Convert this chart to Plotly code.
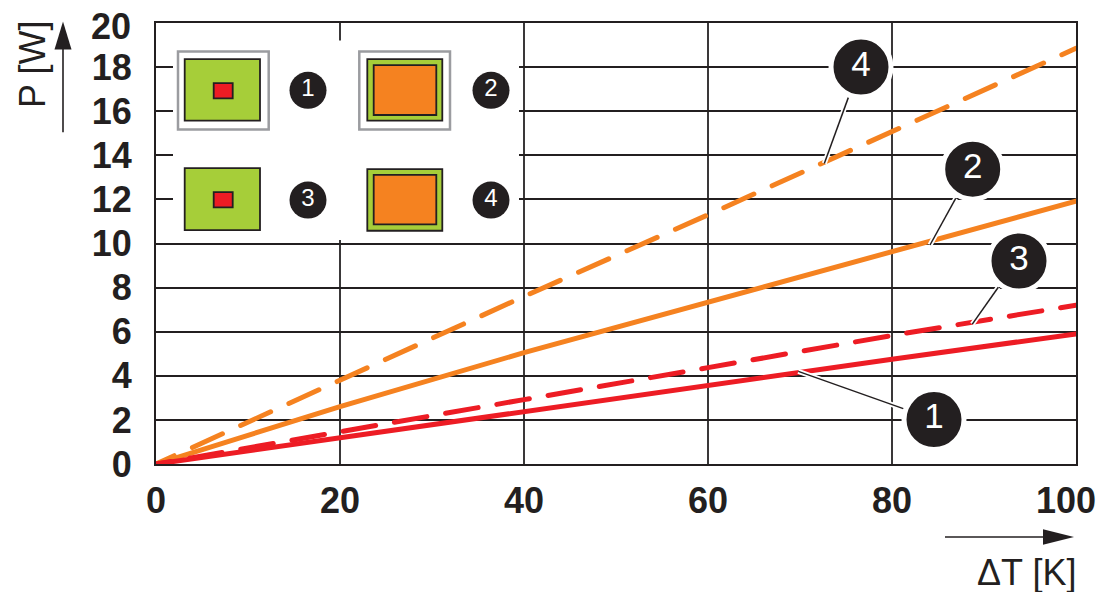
import plotly.graph_objects as go

delta_t = [0, 20, 40, 60, 80, 100]
curve_1 = [0, 1.2, 2.4, 3.6, 4.75, 5.9]
curve_2 = [0, 2.6, 5.05, 7.35, 9.65, 11.92]
curve_3 = [0, 1.48, 2.92, 4.37, 5.83, 7.2]
curve_4 = [0, 3.8, 7.6, 11.3, 15.05, 18.85]
x_ticks = [0, 20, 40, 60, 80, 100]
x_tick_text = ["0", "20", "40", "60", "80", ""]
y_ticks = [0, 2, 4, 6, 8, 10, 12, 14, 16, 18, 20]
y_tick_text = ["0", "2", "4", "6", "8", "10", "12", "14", "16", "18", ""]
callout_labels = ["1", "2", "3", "4"]

W, H = 1105, 592
L, R, T, B = 156, 1076, 22.5, 464.5
INK = "#231f20"
RED = "#ed1c24"
ORANGE = "#f58220"
GREEN = "#a6ce39"
GRAY = "#9b9ca0"
FONT = "Liberation Sans"


def dx(px):
    return (px - L) / (R - L) * 100


def dy(py):
    return (B - py) / (B - T) * 20


def px(x):
    return (x - L) / (R - L)


def py(y):
    return (B - y) / (B - T)


fig = go.Figure()
fig.add_trace(go.Scatter(x=delta_t, y=curve_4, mode="lines", line=dict(color=ORANGE, width=5, dash="33px,20px"), hoverinfo="skip"))
fig.add_trace(go.Scatter(x=delta_t, y=curve_2, mode="lines", line=dict(color=ORANGE, width=5), hoverinfo="skip"))
fig.add_trace(go.Scatter(x=delta_t, y=curve_3, mode="lines", line=dict(color=RED, width=5, dash="33px,19px"), hoverinfo="skip"))
fig.add_trace(go.Scatter(x=delta_t, y=curve_1, mode="lines", line=dict(color=RED, width=5), hoverinfo="skip"))

# numbered callouts on the curves
big = [(934, 420), (972.7, 169), (1019, 261), (861, 66.7)]
fig.add_trace(go.Scatter(
    x=[dx(p[0]) for p in big], y=[dy(p[1]) for p in big], mode="markers+text",
    text=callout_labels, textposition="middle center",
    textfont=dict(family=FONT, size=35, color="white"),
    marker=dict(size=60, color=INK, line=dict(color="white", width=5)),
    hoverinfo="skip", cliponaxis=False))

# numbered key markers
small = [(308, 90), (491, 90), (308, 200), (491, 200)]
fig.add_trace(go.Scatter(
    x=[dx(p[0]) for p in small], y=[dy(p[1]) for p in small], mode="markers+text",
    text=callout_labels, textposition="middle center",
    textfont=dict(family=FONT, size=24, color="white"),
    marker=dict(size=37, color=INK, line=dict(width=0)),
    hoverinfo="skip", cliponaxis=False))

shapes = []


def rect(x0, y0, x1, y1, fill, line, width, layer="above"):
    shapes.append(dict(type="rect", xref="x", yref="y", x0=dx(x0), x1=dx(x1), y0=dy(y0), y1=dy(y1),
                       fillcolor=fill, line=dict(color=line, width=width), layer=layer))


# white panel that interrupts the grid behind the key
rect(173, 40, 519, 240, "white", "white", 0, layer="between")

# key: gray outlines
rect(178, 51, 268.7, 129.3, "white", GRAY, 2.5)
rect(359.3, 51, 450, 129.3, "white", GRAY, 2.5)
# key: green boards
for x0, y0, x1, y1 in [(184.7, 58.7, 260, 120.3), (367.3, 58.7, 442.3, 120.3),
                       (184.7, 168, 260, 230), (367.3, 169, 442.3, 230.7)]:
    rect(x0, y0, x1, y1, GREEN, INK, 1.8)
# key: chips
for x0, y0, x1, y1 in [(213.7, 82.7, 232.7, 98), (213.7, 192, 232.7, 207.3)]:
    rect(x0, y0, x1, y1, RED, INK, 1.8)
for x0, y0, x1, y1 in [(373.7, 64.7, 436.3, 114.7), (373.7, 174.7, 436.3, 224.3)]:
    rect(x0, y0, x1, y1, ORANGE, INK, 1.8)

# leader lines with a white halo
leaders = [((903.3, 409), (798.3, 371.7)), ((955.7, 198.3), (930, 245)),
           ((998.3, 287.3), (972.3, 324.3)), ((848.3, 97.3), (824.3, 163.3))]
for a, b in leaders:
    shapes.append(dict(type="line", xref="x", yref="y", x0=dx(a[0]), y0=dy(a[1]), x1=dx(b[0]), y1=dy(b[1]),
                       line=dict(color="white", width=5), layer="above"))
for a, b in leaders:
    shapes.append(dict(type="line", xref="x", yref="y", x0=dx(a[0]), y0=dy(a[1]), x1=dx(b[0]), y1=dy(b[1]),
                       line=dict(color=INK, width=1.5), layer="above"))

# direction arrows outside the plot
shapes.append(dict(type="line", xref="paper", yref="paper", x0=px(63), x1=px(63), y0=py(132), y1=py(45),
                   line=dict(color=INK, width=1.6)))
shapes.append(dict(type="path", xref="paper", yref="paper",
                   path=f"M {px(63)} {py(21)} L {px(71.5)} {py(49)} L {px(54.5)} {py(49)} Z",
                   fillcolor=INK, line=dict(width=0)))
shapes.append(dict(type="line", xref="paper", yref="paper", x0=px(945), x1=px(1046), y0=py(537.7), y1=py(537.7),
                   line=dict(color=INK, width=1.6)))
shapes.append(dict(type="path", xref="paper", yref="paper",
                   path=f"M {px(1074)} {py(537.7)} L {px(1043)} {py(530)} L {px(1043)} {py(545.5)} Z",
                   fillcolor=INK, line=dict(width=0)))

bold_tick = dict(family=FONT, size=36, color=INK, weight="bold")
annotations = [
    dict(text="P [W]", xref="paper", yref="paper", x=px(33), y=py(64.5), textangle=-90, showarrow=False,
         font=dict(family=FONT, size=36, color=INK), xanchor="center", yanchor="middle"),
    dict(text="ΔT [K]", xref="paper", yref="paper", x=px(1078), y=py(573), showarrow=False,
         font=dict(family=FONT, size=36, color=INK), xanchor="right", yanchor="middle"),
    dict(text="100", xref="paper", yref="paper", x=px(1098), y=py(501), showarrow=False,
         font=bold_tick, xanchor="right", yanchor="middle"),
    dict(text="20", xref="paper", yref="paper", x=px(133), y=py(26.5), showarrow=False,
         font=bold_tick, xanchor="right", yanchor="middle"),
]

fig.update_layout(
    template="none",
    width=W, height=H, autosize=False, showlegend=False,
    paper_bgcolor="white", plot_bgcolor="white",
    margin=dict(l=L, r=W - R, t=T, b=H - B, pad=0),
    shapes=shapes, annotations=annotations,
    xaxis=dict(range=[0, 100], tickvals=x_ticks, ticktext=x_tick_text, showgrid=True, gridcolor="#3a3839", gridwidth=2.4,
               automargin=False,
               showline=True, linecolor=INK, linewidth=2, mirror=True, zeroline=False, ticks="",
               ticklabelstandoff=4, tickfont=bold_tick),
    yaxis=dict(range=[0, 20], tickvals=y_ticks, ticktext=y_tick_text, showgrid=True, gridcolor=INK, gridwidth=2,
               automargin=False,
               showline=True, linecolor=INK, linewidth=2, mirror=True, zeroline=False, ticks="",
               ticklabelstandoff=15, tickfont=bold_tick),
)

page_fix = """
document.documentElement.style.margin = '0';
document.body.style.margin = '0';
document.body.style.overflow = 'hidden';
var styleLines = function () {
  var lines = document.querySelectorAll('.scatterlayer .trace path.js-line');
  lines.forEach(function (p) { p.style.strokeLinecap = 'round'; });
  if (lines[0]) { lines[0].style.strokeDashoffset = '13px'; }
  if (lines[2]) { lines[2].style.strokeDashoffset = '18px'; }
};
styleLines();
setTimeout(styleLines, 30);
"""
fig.write_html("out.html", post_script=page_fix, config=dict(displayModeBar=False))
